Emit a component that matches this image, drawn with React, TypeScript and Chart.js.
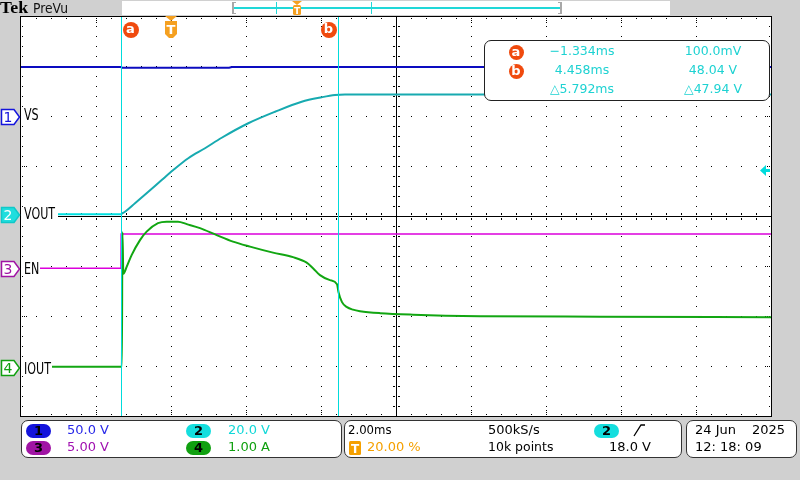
import React, { useEffect, useRef } from "react";
import { Chart, registerables } from "chart.js";

Chart.register(...registerables);

// ---- time base (ms) ----
const X_MIN = -4;
const X_MAX = 16;
const MS_PER_DIV = 2;

// ---- channel 1 : VS (V) ----
const vsTime = [-4, -1.34, -1.3, 1.55, 1.62, 16];
const vsVolts = [49.5, 49.5, 48.8, 48.8, 49.5, 49.5];

// ---- channel 2 : VOUT (V) ----
const voutTime = [-4, -1.334, -1.315, -1.227, -0.96, -0.605, -0.248, 0.061, 0.461, 0.907, 1.352, 2.061, 2.773, 3.485, 4.019, 4.373, 4.64, 16];
const voutVolts = [0.1, 0.1, 0.3, 1.1, 4.5, 9.1, 13.8, 17.8, 22.5, 26.5, 30.7, 36.5, 41.1, 45.1, 46.9, 47.8, 48.0, 48.04];

// ---- channel 3 : EN (V) ----
const enTime = [-4, -1.334, -1.33, 16];
const enVolts = [0, 0, 3.43, 3.43];

// ---- channel 4 : IOUT (A) ----
const ioutTime = [-4, -1.31, -1.295, -1.27, -1.18, -1.05, -0.827, -0.65, -0.347, -0.115, 0.187, 0.42, 0.773, 1.219, 1.653, 2.107, 2.72, 3.253, 3.619, 3.787, 3.973, 4.24, 4.427, 4.467, 4.56, 4.693, 4.853, 5.04, 5.573, 6.453, 8.24, 11.44, 16];
const ioutAmps = [0, 0, 2.69, 1.86, 2.0, 2.23, 2.53, 2.7, 2.87, 2.9, 2.9, 2.85, 2.77, 2.63, 2.5, 2.4, 2.28, 2.19, 2.08, 1.97, 1.83, 1.73, 1.65, 1.49, 1.29, 1.19, 1.14, 1.11, 1.07, 1.04, 1.01, 1.0, 0.99];

// ---- vertical settings (units per division, ground offset in divisions) ----
const VS_PER_DIV = 50;
const VOUT_PER_DIV = 20;
const EN_PER_DIV = 5;
const IOUT_PER_DIV = 1;
const VS_OFFSET = 1.99;
const VOUT_OFFSET = 0.03;
const EN_OFFSET = -1.046;
const IOUT_OFFSET = -3.013;

// ---- cursors & trigger ----
const cursorTimes = [-1.334, 4.458];
const TRIGGER_LEVEL = 18.0;

const toPts = (t: number[], v: number[], perDiv: number, off: number) =>
  t.map((x, i) => ({ x, y: off + v[i] / perDiv }));

const scopePlugin = {
  id: "scopeGraticule",
  beforeDatasetsDraw(chart: any) {
    const { ctx, chartArea: a, scales } = chart;
    const xs = scales.x;
    const ys = scales.y;
    const L = Math.round(a.left) - 1;
    const R = Math.round(a.right);
    const T = Math.round(a.top);
    const B = Math.round(a.bottom);
    ctx.save();
    ctx.fillStyle = "#ffffff";
    ctx.fillRect(L, T, R - L + 1, B - T + 1);
    ctx.fillStyle = "#000000";
    const nx = (X_MAX - X_MIN) / MS_PER_DIV;
    const cxv = X_MIN + (nx / 2) * MS_PER_DIV;
    const cx = Math.round(xs.getPixelForValue(cxv));
    const cy = Math.round(ys.getPixelForValue(0));
    for (let i = 1; i < nx; i++) {
      if (i === nx / 2) continue;
      const px = Math.round(xs.getPixelForValue(X_MIN + i * MS_PER_DIV));
      for (let k = 1; k < 40; k++) {
        ctx.fillRect(px, Math.round(ys.getPixelForValue(-4 + k * 0.2)), 1, 1);
      }
    }
    for (let j = 1; j < 8; j++) {
      if (j === 4) continue;
      const py = Math.round(ys.getPixelForValue(-4 + j));
      for (let k = 1; k < 50; k++) {
        ctx.fillRect(Math.round(xs.getPixelForValue(X_MIN + k * (MS_PER_DIV / 5))), py, 1, 1);
      }
    }
    ctx.fillRect(cx, T, 1, B - T);
    ctx.fillRect(L, cy, R - L, 1);
    for (let k = 1; k < 40; k++) {
      const py = Math.round(ys.getPixelForValue(-4 + k * 0.2));
      ctx.fillRect(cx - 3, py, 2, 1);
      ctx.fillRect(cx + 2, py, 2, 1);
    }
    for (let k = 1; k < 50; k++) {
      const px = Math.round(xs.getPixelForValue(X_MIN + k * (MS_PER_DIV / 5)));
      ctx.fillRect(px, cy - 3, 1, 2);
      ctx.fillRect(px, cy + 2, 1, 2);
    }
    ctx.fillRect(L, T, R - L + 1, 1);
    ctx.fillRect(L, B, R - L + 1, 1);
    ctx.fillRect(L, T, 1, B - T + 1);
    ctx.fillRect(R, T, 1, B - T + 1);
    for (let k = 1; k < 50; k++) {
      const px = Math.round(xs.getPixelForValue(X_MIN + k * (MS_PER_DIV / 5)));
      const n = k % 5 === 0 ? 3 : 1;
      for (let d = 0; d < n; d++) {
        ctx.fillRect(px, T + 2 + d * 2, 1, 1);
        ctx.fillRect(px, B - 2 - d * 2, 1, 1);
      }
    }
    for (let k = 1; k < 40; k++) {
      const py = Math.round(ys.getPixelForValue(-4 + k * 0.2));
      const n = k % 5 === 0 ? 3 : 1;
      for (let d = 0; d < n; d++) {
        ctx.fillRect(L + 2 + d * 2, py, 1, 1);
        ctx.fillRect(R - 2 - d * 2, py, 1, 1);
      }
    }
    ctx.restore();
  },
  afterDatasetsDraw(chart: any) {
    const { ctx, chartArea: a, scales } = chart;
    const xs = scales.x;
    const ys = scales.y;
    const T = Math.round(a.top);
    const B = Math.round(a.bottom);
    const R = Math.round(a.right);
    ctx.save();
    ctx.fillStyle = "#00dcdc";
    for (const ct of cursorTimes) {
      const px = Math.round(xs.getPixelForValue(ct));
      ctx.fillRect(px, T + 1, 1, B - T - 1);
    }
    const ty = Math.round(ys.getPixelForValue(VOUT_OFFSET + TRIGGER_LEVEL / VOUT_PER_DIV));
    ctx.beginPath();
    ctx.moveTo(R - 11, ty + 0.5);
    ctx.lineTo(R - 5, ty - 5);
    ctx.lineTo(R - 5, ty + 6);
    ctx.closePath();
    ctx.fill();
    ctx.fillRect(R - 6, ty - 1, 5, 3);
    ctx.restore();
  },
};

const FONT = "'DejaVu Sans', sans-serif";

function Txt(props: { x: number; y: number; size: number; color?: string; sx?: number; children: any; bold?: boolean; family?: string }) {
  const { x, y, size, color = "#000", sx = 1, bold, family = FONT } = props;
  return (
    <div
      style={{
        position: "absolute",
        left: x,
        top: y - 0.846 * size,
        fontFamily: family,
        fontSize: size,
        lineHeight: `${size}px`,
        fontWeight: bold ? 700 : 400,
        color,
        whiteSpace: "nowrap",
        transform: `scaleX(${sx})`,
        transformOrigin: "left top",
      }}
    >
      {props.children}
    </div>
  );
}

function CTxt(props: { cx: number; y: number; size: number; color: string; children: any }) {
  const { cx, y, size, color } = props;
  return (
    <div
      style={{
        position: "absolute",
        left: cx - 60,
        width: 120,
        textAlign: "center",
        top: y - 0.846 * size,
        fontFamily: FONT,
        fontSize: size,
        lineHeight: `${size}px`,
        color,
        whiteSpace: "nowrap",
      }}
    >
      {props.children}
    </div>
  );
}

function Circ(props: { cx: number; cy: number; ch: string; d?: number }) {
  const d = props.d ?? 16;
  return (
    <div
      style={{
        position: "absolute",
        left: props.cx - d / 2,
        top: props.cy - d / 2,
        width: d,
        height: d,
        borderRadius: "50%",
        background: "#f04a0e",
        color: "#fff",
        fontFamily: FONT,
        fontWeight: 700,
        fontSize: 13,
        lineHeight: `${d - 2}px`,
        textAlign: "center",
      }}
    >
      {props.ch}
    </div>
  );
}

function Pill(props: { x: number; y: number; bg: string; ch: string }) {
  return (
    <div
      style={{
        position: "absolute",
        left: props.x,
        top: props.y,
        width: 25,
        height: 14,
        borderRadius: 7,
        background: props.bg,
        color: "#000",
        fontFamily: FONT,
        fontWeight: 700,
        fontSize: 13,
        lineHeight: "14px",
        textAlign: "center",
      }}
    >
      {props.ch}
    </div>
  );
}

function Flag(props: { cy: number; stroke: string; fill: string; color: string; ch: string }) {
  return (
    <svg style={{ position: "absolute", left: 0, top: props.cy - 9 }} width={22} height={18}>
      <polygon points="1.5,1.5 14,1.5 19.5,9 14,16.5 1.5,16.5" fill={props.fill} stroke={props.stroke} strokeWidth={1.5} />
      <text x={8} y={14} textAnchor="middle" fontFamily={FONT} fontSize={14} fill={props.color}>
        {props.ch}
      </text>
    </svg>
  );
}

function Label(props: { cy: number; base: number; w: number; text: string }) {
  return (
    <>
      <div style={{ position: "absolute", left: 21, top: props.cy - 7, width: props.w, height: 15, background: "#fff" }} />
      <Txt x={24} y={props.base} size={15} sx={0.74}>
        {props.text}
      </Txt>
    </>
  );
}

const panel = (left: number, width: number): React.CSSProperties => ({
  position: "absolute",
  left,
  top: 420,
  width,
  height: 38,
  boxSizing: "border-box",
  border: "1px solid #333",
  borderRadius: 7,
  background: "#fff",
});

export default function App() {
  const ref = useRef<HTMLCanvasElement | null>(null);
  useEffect(() => {
    if (!ref.current) return;
    const chart = new Chart(ref.current, {
      type: "line",
      data: {
        datasets: [
          {
            label: "IOUT",
            data: toPts(ioutTime, ioutAmps, IOUT_PER_DIV, IOUT_OFFSET),
            borderColor: "#12a612",
            borderWidth: 2,
            borderJoinStyle: "round",
            cubicInterpolationMode: "monotone",
          },
          {
            label: "VOUT",
            data: toPts(voutTime, voutVolts, VOUT_PER_DIV, VOUT_OFFSET),
            borderColor: "#17aab0",
            borderWidth: 2,
            cubicInterpolationMode: "monotone",
            segment: {
              borderColor: (c: any) => (c.p0.parsed.x < -1.34 ? "#00e0e0" : undefined),
            },
          },
          {
            label: "EN",
            data: toPts(enTime, enVolts, EN_PER_DIV, EN_OFFSET),
            borderColor: "#dc00dc",
            borderWidth: 1.5,
          },
          {
            label: "VS",
            data: toPts(vsTime, vsVolts, VS_PER_DIV, VS_OFFSET),
            borderColor: "#0c0cc0",
            borderWidth: 2,
          },
        ] as any,
      },
      options: {
        animation: false,
        responsive: false,
        maintainAspectRatio: false,
        devicePixelRatio: 1,
        events: [],
        layout: { padding: { left: 21, top: 16, right: 29, bottom: 64 } },
        scales: {
          x: { type: "linear", min: X_MIN, max: X_MAX, display: false },
          y: { type: "linear", min: -4, max: 4, display: false },
        },
        elements: { point: { radius: 0 }, line: { tension: 0 } },
        plugins: { legend: { display: false }, tooltip: { enabled: false } },
      },
      plugins: [scopePlugin],
    });
    return () => chart.destroy();
  }, []);

  return (
    <div style={{ position: "absolute", left: 0, top: 0, width: 800, height: 480, background: "#d0d0d0", overflow: "hidden" }}>
      <canvas ref={ref} width={800} height={480} style={{ position: "absolute", left: 0, top: 0, width: 800, height: 480 }} />

      {/* top bar */}
      <Txt x={0} y={13} size={17} bold family="'Liberation Serif', serif" sx={1.05}>
        Tek
      </Txt>
      <Txt x={33} y={13} size={14} sx={0.88} color="#111">
        PreVu
      </Txt>
      <div style={{ position: "absolute", left: 122, top: 1, width: 548, height: 14, background: "#fff" }} />
      <div style={{ position: "absolute", left: 232, top: 2, width: 2, height: 12, background: "#a8a8a8" }} />
      <div style={{ position: "absolute", left: 232, top: 2, width: 4, height: 1, background: "#a8a8a8" }} />
      <div style={{ position: "absolute", left: 232, top: 13, width: 4, height: 1, background: "#a8a8a8" }} />
      <div style={{ position: "absolute", left: 560, top: 2, width: 2, height: 12, background: "#a8a8a8" }} />
      <div style={{ position: "absolute", left: 558, top: 2, width: 4, height: 1, background: "#a8a8a8" }} />
      <div style={{ position: "absolute", left: 558, top: 13, width: 4, height: 1, background: "#a8a8a8" }} />
      <div style={{ position: "absolute", left: 234, top: 7, width: 326, height: 2, background: "#20d8d8" }} />
      <div style={{ position: "absolute", left: 276, top: 2, width: 1, height: 12, background: "#20d8d8" }} />
      <div style={{ position: "absolute", left: 371, top: 2, width: 1, height: 12, background: "#20d8d8" }} />
      <svg style={{ position: "absolute", left: 292, top: 1 }} width={11} height={14}>
        <polygon points="0,0 10,0 5,4" fill="#f5a020" />
        <rect x={1} y={4} width={8} height={10} rx={1.5} fill="#f5a020" />
        <text x={5} y={12.5} textAnchor="middle" fontFamily={FONT} fontWeight={700} fontSize={9} fill="#fff">
          T
        </text>
      </svg>

      {/* cursor & trigger markers on graticule */}
      <Circ cx={130.5} cy={30} ch="a" />
      <Circ cx={328.5} cy={30} ch="b" />
      <svg style={{ position: "absolute", left: 165, top: 16 }} width={13} height={23}>
        <polygon points="0,0 12,0 6,5" fill="#f5a020" />
        <path d="M0,5 H12 V18 L8,22 H4 L0,18 Z" fill="#f5a020" />
        <text x={6} y={18} textAnchor="middle" fontFamily={FONT} fontWeight={700} fontSize={13} fill="#fff">
          T
        </text>
      </svg>

      {/* channel flags and labels */}
      <Flag cy={117} stroke="#1414dc" fill="#fff" color="#1414dc" ch="1" />
      <Flag cy={215} stroke="#10c8c8" fill="#20dede" color="#fff" ch="2" />
      <Flag cy={269} stroke="#a014a4" fill="#fff" color="#a014a4" ch="3" />
      <Flag cy={368} stroke="#10a010" fill="#fff" color="#10a010" ch="4" />
      <Label cy={115} base={121} w={20} text="VS" />
      <Label cy={214} base={219.5} w={37} text="VOUT" />
      <Label cy={268} base={275} w={19} text="EN" />
      <Label cy={368} base={375} w={31} text="IOUT" />

      {/* cursor readout */}
      <div style={{ position: "absolute", left: 484, top: 40, width: 286, height: 61, boxSizing: "border-box", border: "1px solid #222", borderRadius: 7, background: "#fff" }} />
      <Circ cx={516} cy={52} ch="a" d={15} />
      <Circ cx={516} cy={71} ch="b" d={15} />
      <CTxt cx={582} y={56} size={12.5} color="#1ed2d2">−1.334ms</CTxt>
      <CTxt cx={713} y={56} size={12.5} color="#1ed2d2">100.0mV</CTxt>
      <CTxt cx={582} y={75} size={12.5} color="#1ed2d2">4.458ms</CTxt>
      <CTxt cx={713} y={75} size={12.5} color="#1ed2d2">48.04 V</CTxt>
      <CTxt cx={582} y={94} size={12.5} color="#1ed2d2">△5.792ms</CTxt>
      <CTxt cx={713} y={94} size={12.5} color="#1ed2d2">△47.94 V</CTxt>

      {/* bottom panels */}
      <div style={panel(21, 321)} />
      <div style={panel(344, 338)} />
      <div style={panel(686, 111)} />
      <Pill x={26} y={424} bg="#1414dc" ch="1" />
      <Pill x={186} y={424} bg="#14dede" ch="2" />
      <Pill x={26} y={441} bg="#a014a4" ch="3" />
      <Pill x={186} y={441} bg="#10a010" ch="4" />
      <Txt x={67} y={434} size={13} color="#2828e8">50.0 V</Txt>
      <Txt x={228} y={434} size={13} color="#10d8d8">20.0 V</Txt>
      <Txt x={67} y={451} size={13} color="#a010b0">5.00 V</Txt>
      <Txt x={228} y={451} size={13} color="#10a010">1.00 A</Txt>

      <Txt x={348} y={434} size={13} sx={0.9}>2.00ms</Txt>
      <svg style={{ position: "absolute", left: 349, top: 441 }} width={13} height={15}>
        <rect x={0} y={0} width={12} height={14} rx={1.5} fill="#f5a000" />
        <text x={6} y={12} textAnchor="middle" fontFamily={FONT} fontWeight={700} fontSize={12} fill="#fff">
          T
        </text>
      </svg>
      <Txt x={367} y={451} size={13} color="#f5a000">20.00 %</Txt>
      <Txt x={488} y={434} size={13}>500kS/s</Txt>
      <Txt x={488} y={451} size={13} sx={0.96}>10k points</Txt>
      <Pill x={594} y={424} bg="#14dede" ch="2" />
      <svg style={{ position: "absolute", left: 632, top: 423 }} width={15} height={15}>
        <polyline points="2,13 9,2 13,2" fill="none" stroke="#000" strokeWidth={1.3} />
      </svg>
      <Txt x={609} y={451} size={13}>18.0 V</Txt>

      <Txt x={695} y={434} size={13}>24 Jun</Txt>
      <Txt x={752} y={434} size={13}>2025</Txt>
      <Txt x={695} y={451} size={13}>12: 18: 09</Txt>
    </div>
  );
}
